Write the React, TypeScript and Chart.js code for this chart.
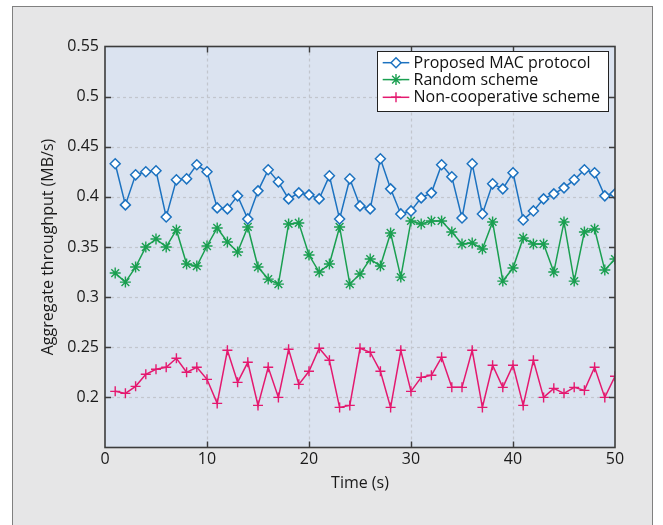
import { useEffect, useRef } from 'react';
import { Chart, registerables } from 'chart.js';
import { drawPoint } from 'chart.js/helpers';

Chart.register(...registerables);

const time = [1, 2, 3, 4, 5, 6, 7, 8, 9, 10, 11, 12, 13, 14, 15, 16, 17, 18, 19, 20, 21, 22, 23, 24, 25, 26, 27, 28, 29, 30, 31, 32, 33, 34, 35, 36, 37, 38, 39, 40, 41, 42, 43, 44, 45, 46, 47, 48, 49, 50];

const proposed = [0.433, 0.392, 0.422, 0.425, 0.426, 0.380, 0.417, 0.418, 0.432, 0.425, 0.389, 0.388, 0.401, 0.378, 0.406, 0.427, 0.415, 0.398, 0.404, 0.402, 0.398, 0.421, 0.378, 0.418, 0.391, 0.388, 0.438, 0.408, 0.383, 0.386, 0.399, 0.404, 0.432, 0.420, 0.379, 0.433, 0.383, 0.413, 0.408, 0.424, 0.377, 0.386, 0.398, 0.403, 0.409, 0.417, 0.427, 0.424, 0.401, 0.403];

const random = [0.324, 0.315, 0.330, 0.350, 0.358, 0.350, 0.367, 0.333, 0.331, 0.351, 0.369, 0.355, 0.345, 0.370, 0.330, 0.318, 0.313, 0.373, 0.374, 0.342, 0.325, 0.333, 0.370, 0.313, 0.323, 0.338, 0.331, 0.364, 0.320, 0.376, 0.373, 0.376, 0.376, 0.365, 0.353, 0.354, 0.348, 0.375, 0.316, 0.329, 0.359, 0.353, 0.353, 0.325, 0.375, 0.316, 0.365, 0.368, 0.327, 0.338];

const nonCoop = [0.206, 0.204, 0.211, 0.223, 0.228, 0.230, 0.239, 0.225, 0.230, 0.218, 0.194, 0.247, 0.215, 0.235, 0.192, 0.230, 0.200, 0.248, 0.213, 0.226, 0.249, 0.237, 0.190, 0.192, 0.249, 0.245, 0.226, 0.190, 0.247, 0.206, 0.220, 0.222, 0.240, 0.210, 0.210, 0.247, 0.190, 0.232, 0.210, 0.232, 0.192, 0.237, 0.200, 0.209, 0.204, 0.210, 0.207, 0.230, 0.200, 0.221];

const seriesNames = ['Proposed MAC protocol', 'Random scheme', 'Non-cooperative scheme'];
const xTicks = [0, 10, 20, 30, 40, 50];
const yTicks = [0.2, 0.25, 0.3, 0.35, 0.4, 0.45, 0.5, 0.55];
const yTickLabels = ['0.2', '0.25', '0.3', '0.35', '0.4', '0.45', '0.5', '0.55'];
const xTitle = 'Time (s)';
const yTitle = 'Aggregate throughput (MB/s)';

const FONT = '"Open Sans", "DejaVu Sans", sans-serif';
const FS = 16;
const BLUE = '#1c72c0';
const GREEN = '#1a9f50';
const PINK = '#e4196f';

const framePlugin = {
  id: 'frame',
  beforeDatasetsDraw(chart: any) {
    const { ctx, chartArea: a, scales } = chart;
    ctx.save();
    ctx.fillStyle = '#dbe3f0';
    ctx.fillRect(a.left, a.top, a.right - a.left, a.bottom - a.top);
    ctx.strokeStyle = '#c2c6cd';
    ctx.lineWidth = 1.2;
    ctx.setLineDash([3, 3]);
    xTicks.forEach((v) => {
      if (v <= 0 || v >= 50) return;
      const x = Math.round(scales.x.getPixelForValue(v)) + 0.5;
      ctx.beginPath();
      ctx.moveTo(x, a.top);
      ctx.lineTo(x, a.bottom);
      ctx.stroke();
    });
    yTicks.forEach((v) => {
      if (v >= 0.55) return;
      const y = Math.round(scales.y.getPixelForValue(v)) + 0.5;
      ctx.beginPath();
      ctx.moveTo(a.left, y);
      ctx.lineTo(a.right, y);
      ctx.stroke();
    });
    ctx.restore();
  },
  afterDatasetsDraw(chart: any) {
    const { ctx, chartArea: a, scales } = chart;
    ctx.save();
    ctx.setLineDash([]);
    ctx.strokeStyle = '#3c3c3c';
    ctx.lineWidth = 1.6;
    ctx.strokeRect(a.left, a.top, a.right - a.left, a.bottom - a.top);
    ctx.lineWidth = 1.4;
    const tl = 6;
    xTicks.forEach((v) => {
      if (v <= 0 || v >= 50) return;
      const x = Math.round(scales.x.getPixelForValue(v)) + 0.5;
      ctx.beginPath();
      ctx.moveTo(x, a.bottom);
      ctx.lineTo(x, a.bottom - tl);
      ctx.moveTo(x, a.top);
      ctx.lineTo(x, a.top + tl);
      ctx.stroke();
    });
    yTicks.forEach((v) => {
      if (v >= 0.55) return;
      const y = Math.round(scales.y.getPixelForValue(v)) + 0.5;
      ctx.beginPath();
      ctx.moveTo(a.left, y);
      ctx.lineTo(a.left + tl, y);
      ctx.moveTo(a.right, y);
      ctx.lineTo(a.right - tl, y);
      ctx.stroke();
    });

    // legend
    const lx = 364.5, ly = 44.5, lw = 231, lh = 60;
    ctx.fillStyle = '#ffffff';
    ctx.fillRect(lx, ly, lw, lh);
    ctx.strokeStyle = '#222';
    ctx.lineWidth = 1;
    ctx.strokeRect(lx, ly, lw, lh);
    const rows = [55.7, 72.6, 90.3];
    ctx.font = `${FS}px ${FONT}`;
    ctx.textBaseline = 'middle';
    ctx.textAlign = 'left';
    chart.data.datasets.forEach((ds: any, i: number) => {
      const y = rows[i];
      ctx.strokeStyle = ds.borderColor;
      ctx.lineWidth = ds.borderWidth;
      ctx.beginPath();
      ctx.moveTo(369.7, y);
      ctx.lineTo(396.3, y);
      ctx.stroke();
      ctx.fillStyle = ds.pointBackgroundColor;
      ctx.strokeStyle = ds.borderColor;
      ctx.lineWidth = ds.pointBorderWidth;
      drawPoint(ctx, { pointStyle: ds.pointStyle, radius: ds.pointRadius, rotation: 0, borderWidth: ds.pointBorderWidth }, 383, y);
      ctx.fillStyle = '#111';
      ctx.fillText(ds.label, 400.5, y + 0.5);
    });
    ctx.restore();
  },
};

export default function App() {
  const ref = useRef<HTMLCanvasElement | null>(null);

  useEffect(() => {
    if (!ref.current) return;
    const mk = (vals: number[]) => vals.map((v, i) => ({ x: time[i], y: v }));
    const chart = new Chart(ref.current, {
      type: 'line',
      data: {
        datasets: [
          {
            label: seriesNames[0],
            data: mk(proposed),
            borderColor: BLUE,
            borderWidth: 1.5,
            pointStyle: 'rectRot',
            pointRadius: 5,
            pointBorderWidth: 1.5,
            pointBackgroundColor: '#ffffff',
            pointBorderColor: BLUE,
            tension: 0,
          },
          {
            label: seriesNames[1],
            data: mk(random),
            borderColor: GREEN,
            borderWidth: 1.5,
            pointStyle: 'star',
            pointRadius: 5.5,
            pointBorderWidth: 1.4,
            pointBackgroundColor: GREEN,
            pointBorderColor: GREEN,
            tension: 0,
          },
          {
            label: seriesNames[2],
            data: mk(nonCoop),
            borderColor: PINK,
            borderWidth: 1.5,
            pointStyle: 'cross',
            pointRadius: 5,
            pointBorderWidth: 1.4,
            pointBackgroundColor: PINK,
            pointBorderColor: PINK,
            tension: 0,
          },
        ],
      } as any,
      options: {
        animation: false,
        responsive: false,
        maintainAspectRatio: false,
        layout: { padding: { left: 0, right: 37, top: 39.5, bottom: 0 } },
        plugins: { legend: { display: false }, tooltip: { enabled: false } },
        scales: {
          x: {
            type: 'linear',
            min: 0,
            max: 50,
            afterFit: (s: any) => { s.height = 77.5; },
            afterBuildTicks: (s: any) => { s.ticks = xTicks.map((v) => ({ value: v })); },
            grid: { display: false, drawTicks: false },
            border: { display: false },
            ticks: { padding: 2, color: '#1a1a1a', font: { family: FONT, size: FS }, maxRotation: 0, autoSkip: false, callback: (v: any) => String(v) },
            title: { display: true, text: xTitle, color: '#1a1a1a', font: { family: FONT, size: FS }, padding: { top: 0, bottom: 32.4 } },
          },
          y: {
            type: 'linear',
            min: 0.15,
            max: 0.55,
            afterFit: (s: any) => { s.width = 92; },
            afterBuildTicks: (s: any) => { s.ticks = yTicks.map((v) => ({ value: v })); },
            grid: { display: false, drawTicks: false },
            border: { display: false },
            ticks: {
              padding: 6,
              color: '#1a1a1a',
              font: { family: FONT, size: FS },
              autoSkip: false,
              callback: (v: any) => {
                const i = yTicks.findIndex((t) => Math.abs(t - v) < 1e-6);
                return i >= 0 ? yTickLabels[i] : '';
              },
            },
            title: { display: true, text: yTitle, color: '#1a1a1a', font: { family: FONT, size: FS }, padding: { top: 25.4, bottom: 0 } },
          },
        },
      } as any,
      plugins: [framePlugin],
    });
    return () => chart.destroy();
  }, []);

  return (
    <div
      style={{
        position: 'absolute',
        left: 12,
        top: 6,
        width: 641,
        height: 519,
        boxSizing: 'border-box',
        border: '1px solid #808080',
        borderBottom: 'none',
        background: '#e6e6e7',
        overflow: 'hidden',
      }}
    >
      <canvas ref={ref} width={639} height={518} style={{ display: 'block', width: 639, height: 518 }} />
    </div>
  );
}
